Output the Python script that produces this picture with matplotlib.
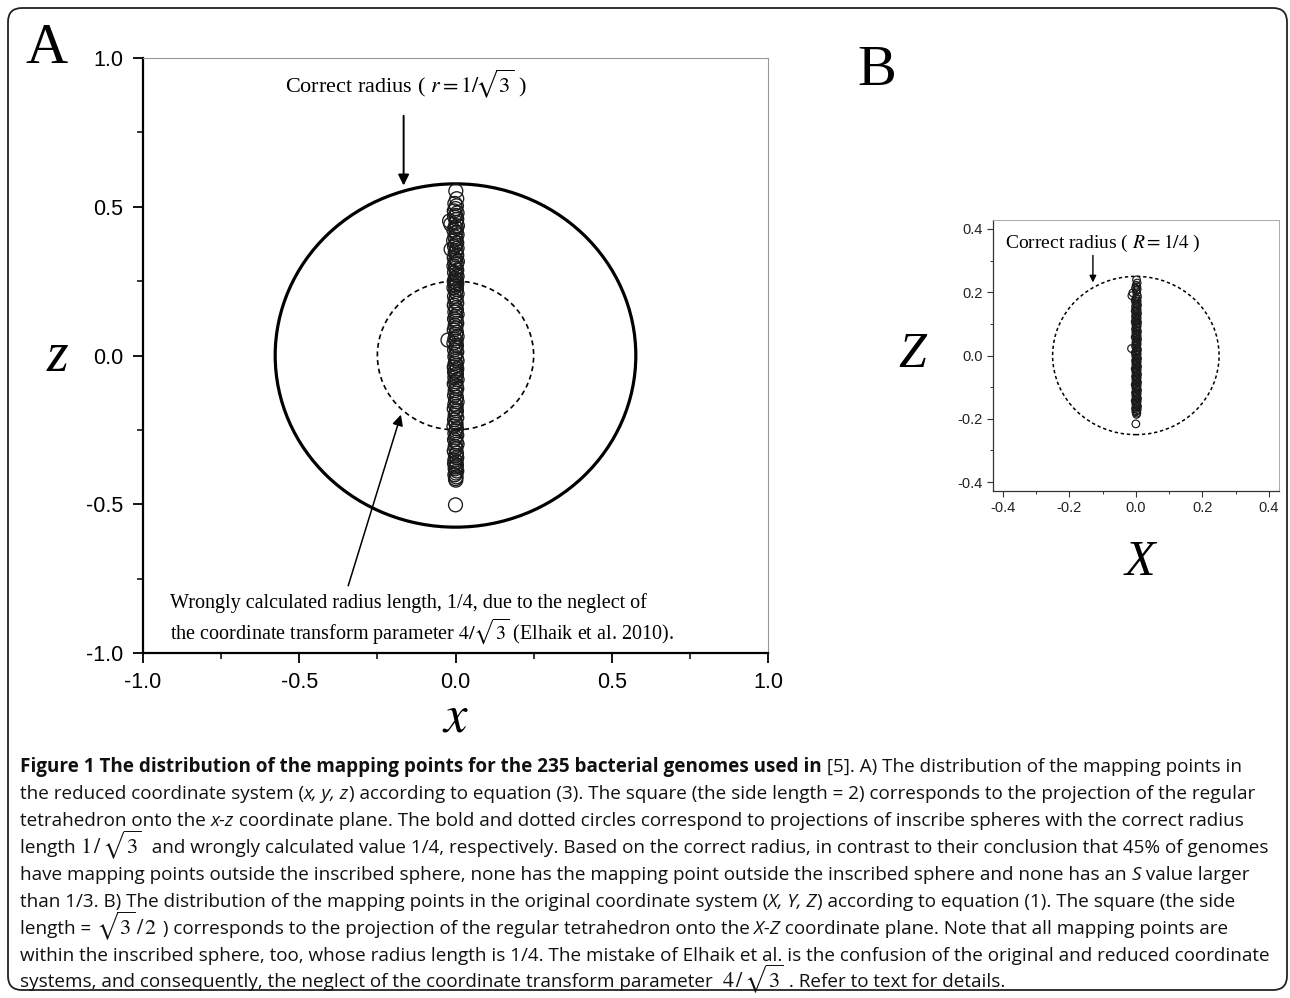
import matplotlib
matplotlib.use("Agg")
import matplotlib.pyplot as plt
from matplotlib.patches import Circle, FancyBboxPatch
from matplotlib.transforms import IdentityTransform
from matplotlib.font_manager import FontProperties
from matplotlib.ticker import MultipleLocator

plt.rcParams['mathtext.fontset'] = 'stix'
plt.rcParams['axes.unicode_minus'] = False

# ---------------- data ----------------
# Panel A: reduced coordinate system (x, z)
a_pts = [
    (0.001, 0.553), (0.004, 0.527), (-0.002, 0.511), (0.003, 0.503), (0.000, 0.494),
    (-0.004, 0.486), (0.005, 0.479), (0.001, 0.471), (-0.003, 0.466), (0.004, 0.458),
    (-0.019, 0.452), (0.002, 0.447), (-0.015, 0.441), (0.006, 0.436), (-0.001, 0.432),
    (0.003, 0.427), (-0.005, 0.421), (0.002, 0.414), (0.005, 0.406), (-0.002, 0.399),
    (0.001, 0.391), (-0.006, 0.386), (0.004, 0.379), (0.000, 0.372), (-0.003, 0.366),
    (0.005, 0.361), (-0.014, 0.357), (0.002, 0.352), (-0.001, 0.345), (0.004, 0.337),
    (-0.004, 0.329), (0.001, 0.322), (0.006, 0.316), (-0.002, 0.311), (0.003, 0.307),
    (-0.005, 0.301), (0.000, 0.294), (0.004, 0.287), (-0.003, 0.279), (0.002, 0.272),
    (0.005, 0.266), (-0.001, 0.259), (0.003, 0.253), (-0.004, 0.249), (0.001, 0.245),
    (0.004, 0.241), (-0.002, 0.237), (0.002, 0.233), (-0.005, 0.228), (0.003, 0.222),
    (0.000, 0.215), (0.005, 0.207), (-0.003, 0.199), (0.002, 0.192), (-0.001, 0.184),
    (0.004, 0.176), (-0.004, 0.169), (0.001, 0.161), (0.003, 0.153), (-0.002, 0.146),
    (0.005, 0.138), (0.000, 0.131), (-0.003, 0.123), (0.002, 0.116), (0.004, 0.108),
    (-0.001, 0.101), (0.001, 0.093), (-0.004, 0.086), (0.003, 0.078), (0.000, 0.071),
    (0.005, 0.064), (-0.002, 0.056), (0.002, 0.049), (-0.005, 0.042), (0.003, 0.034),
    (0.001, 0.027), (-0.003, 0.019), (0.004, 0.012), (0.000, 0.004), (-0.002, -0.004),
    (0.003, -0.011), (0.005, -0.018), (-0.001, -0.026), (0.002, -0.033), (-0.004, -0.039),
    (0.004, -0.045), (0.000, -0.051), (-0.003, -0.056), (0.003, -0.062), (0.001, -0.068),
    (-0.002, -0.074), (0.005, -0.081), (0.000, -0.088), (-0.004, -0.095), (0.002, -0.103),
    (0.004, -0.111), (-0.001, -0.118), (0.001, -0.126), (-0.003, -0.134), (0.003, -0.141),
    (0.000, -0.149), (0.005, -0.156), (-0.002, -0.164), (0.002, -0.171), (-0.004, -0.179),
    (0.003, -0.186), (0.001, -0.194), (-0.001, -0.201), (0.004, -0.209), (-0.003, -0.216),
    (0.000, -0.224), (0.002, -0.231), (-0.005, -0.238), (0.003, -0.246), (0.001, -0.253),
    (-0.002, -0.261), (0.004, -0.268), (0.000, -0.276), (-0.003, -0.283), (0.002, -0.291),
    (0.005, -0.298), (-0.001, -0.306), (0.001, -0.313), (-0.004, -0.321), (0.003, -0.328),
    (0.000, -0.336), (0.004, -0.343), (-0.002, -0.351), (0.002, -0.357), (-0.003, -0.363),
    (0.003, -0.369), (0.000, -0.375), (-0.001, -0.381), (0.004, -0.388), (0.001, -0.395),
    (-0.002, -0.401), (0.002, -0.408), (0.000, -0.414), (0.001, -0.419), (0.000, -0.502),
    (-0.024, 0.052),
]
# Panel B: original coordinate system (X, Z)
b_pts = [
    (0.002, 0.239), (0.004, 0.229), (0.001, 0.222), (0.003, 0.217), (-0.001, 0.213),
    (0.004, 0.209), (0.002, 0.205), (-0.009, 0.198), (0.003, 0.195), (-0.012, 0.189),
    (0.005, 0.186), (0.001, 0.182), (0.003, 0.178), (-0.002, 0.174), (0.004, 0.171),
    (0.000, 0.167), (0.002, 0.163), (0.005, 0.159), (-0.001, 0.155), (0.003, 0.152),
    (0.001, 0.148), (0.004, 0.144), (-0.002, 0.141), (0.002, 0.137), (0.005, 0.133),
    (0.000, 0.129), (0.003, 0.125), (-0.001, 0.122), (0.004, 0.118), (0.001, 0.114),
    (0.003, 0.110), (-0.002, 0.107), (0.005, 0.104), (0.002, 0.101), (0.000, 0.098),
    (0.004, 0.094), (0.001, 0.090), (0.003, 0.087), (-0.001, 0.083), (0.002, 0.079),
    (0.005, 0.076), (0.000, 0.072), (0.003, 0.068), (0.001, 0.065), (0.004, 0.061),
    (-0.002, 0.058), (0.002, 0.054), (0.005, 0.051), (0.001, 0.047), (0.003, 0.043),
    (0.000, 0.040), (0.004, 0.036), (0.002, 0.032), (-0.001, 0.029), (0.003, 0.025),
    (0.005, 0.018), (0.001, 0.015), (0.003, 0.011), (-0.002, 0.008), (0.004, 0.004),
    (0.002, 0.001), (0.000, -0.003), (0.003, -0.006), (0.005, -0.010), (0.001, -0.014),
    (-0.001, -0.017), (0.004, -0.021), (0.002, -0.024), (0.000, -0.028), (0.003, -0.031),
    (0.005, -0.035), (0.001, -0.039), (-0.002, -0.042), (0.004, -0.046), (0.002, -0.049),
    (0.000, -0.053), (0.003, -0.056), (0.005, -0.060), (0.001, -0.064), (-0.001, -0.067),
    (0.004, -0.071), (0.002, -0.074), (0.000, -0.078), (0.003, -0.082), (0.005, -0.085),
    (0.001, -0.089), (-0.002, -0.092), (0.004, -0.096), (0.002, -0.100), (0.000, -0.103),
    (0.003, -0.107), (0.005, -0.110), (0.001, -0.114), (-0.001, -0.118), (0.004, -0.121),
    (0.002, -0.125), (0.000, -0.128), (0.003, -0.132), (0.005, -0.136), (0.001, -0.139),
    (-0.002, -0.143), (0.004, -0.146), (0.002, -0.150), (0.000, -0.154), (0.003, -0.157),
    (0.005, -0.161), (0.001, -0.164), (-0.001, -0.168), (0.004, -0.171), (0.002, -0.175),
    (0.000, -0.178), (0.003, -0.182), (0.002, -0.186), (0.000, -0.216), (-0.013, 0.022),
]
a_radius_correct = 0.577   # 1/sqrt(3)
a_radius_wrong = 0.25
b_radius_correct = 0.25
a_ticks = [-1.0, -0.5, 0.0, 0.5, 1.0]
b_ticks = [-0.4, -0.2, 0.0, 0.2, 0.4]

caption_lines = [
    [("Figure 1 The distribution of the mapping points for the 235 bacterial genomes used in", 'b'),
     (" [5]. A) The distribution of the mapping points in", 'r')],
    [("the reduced coordinate system (", 'r'), ("x, y, z", 'i'),
     (") according to equation (3). The square (the side length = 2) corresponds to the projection of the regular", 'r')],
    [("tetrahedron onto the ", 'r'), ("x-z", 'i'),
     (" coordinate plane. The bold and dotted circles correspond to projections of inscribe spheres with the correct radius", 'r')],
    [("length ", 'r'), (r"$1\,/\,\sqrt{3}$", 'm'),
     ("  and wrongly calculated value 1/4, respectively. Based on the correct radius, in contrast to their conclusion that 45% of genomes", 'r')],
    [("have mapping points outside the inscribed sphere, none has the mapping point outside the inscribed sphere and none has an ", 'r'),
     ("S", 'i'), (" value larger", 'r')],
    [("than 1/3. B) The distribution of the mapping points in the original coordinate system (", 'r'), ("X, Y, Z", 'i'),
     (") according to equation (1). The square (the side", 'r')],
    [("length = ", 'r'), (r"$\sqrt{3}\,/\,2$", 'm'),
     (" ) corresponds to the projection of the regular tetrahedron onto the ", 'r'), ("X-Z", 'i'),
     (" coordinate plane. Note that all mapping points are", 'r')],
    [("within the inscribed sphere, too, whose radius length is 1/4. The mistake of Elhaik et al. is the confusion of the original and reduced coordinate", 'r')],
    [("systems, and consequently, the neglect of the coordinate transform parameter  ", 'r'), (r"$4\,/\,\sqrt{3}$", 'm'),
     (" . Refer to text for details.", 'r')],
]

# ---------------- figure ----------------
W, H = 1290, 998
fig = plt.figure(figsize=(W / 100, H / 100), dpi=100)
fig.patch.set_facecolor('white')


def fpx(x, y):
    return x / W, 1 - y / H


SERIF = 'Liberation Serif'
SANS = 'Liberation Sans'
CAP = 'Open Sans'

# outer rounded frame
fig.add_artist(FancyBboxPatch((8, 8), 1279, 982, boxstyle='round,pad=0,rounding_size=14',
                              transform=IdentityTransform(), fill=False, ec='#222222', lw=1.3))

# ---------- panel A ----------
axA = fig.add_axes([143 / W, 1 - 653 / H, 625 / W, 595 / H])
axA.set_xlim(-1, 1)
axA.set_ylim(-1, 1)
ax_x = [p[0] for p in a_pts]
ax_z = [p[1] for p in a_pts]
axA.scatter(ax_x, ax_z, s=100, facecolors='none', edgecolors='#1a1a1a', linewidths=0.95, zorder=3)
axA.add_patch(Circle((0, 0), a_radius_correct, fill=False, ec='black', lw=2.3, zorder=2))
axA.add_patch(Circle((0, 0), a_radius_wrong, fill=False, ec='black', lw=1.2,
                     linestyle=(0, (3, 2.2)), zorder=2))
for s in ['left', 'bottom']:
    axA.spines[s].set_linewidth(1.6)
    axA.spines[s].set_color('black')
for s in ['top', 'right']:
    axA.spines[s].set_linewidth(0.8)
    axA.spines[s].set_color('#999999')
axA.set_xticks(a_ticks)
axA.set_yticks(a_ticks)
axA.xaxis.set_minor_locator(MultipleLocator(0.25))
axA.yaxis.set_minor_locator(MultipleLocator(0.25))
axA.tick_params(which='both', direction='out', top=False, right=False, color='black')
axA.tick_params(which='major', length=7, width=1.3, labelsize=15.5, pad=7)
axA.tick_params(which='minor', length=4.5, width=1.1)
for lab in axA.get_xticklabels() + axA.get_yticklabels():
    lab.set_fontfamily(SANS)

axA.annotate('', xy=(-0.166, 0.562), xytext=(-0.166, 0.815),
             arrowprops=dict(arrowstyle='-|>', color='black', lw=1.4, mutation_scale=16))
axA.annotate('', xy=(-0.172, -0.19), xytext=(-0.346, -0.783),
             arrowprops=dict(arrowstyle='-|>', color='black', lw=1.1, mutation_scale=16))
axA.text(-0.16, 0.884, r"Correct radius ( $r = 1/\!\sqrt{3}$ )", ha='center', va='baseline',
         fontsize=16, family=SERIF)
axA.text(-0.912, -0.850, "Wrongly calculated radius length, 1/4, due to the neglect of",
         ha='left', va='baseline', fontsize=14.5, family=SERIF)
axA.text(-0.912, -0.951, r"the coordinate transform parameter $4/\sqrt{3}$ (Elhaik et al. 2010).",
         ha='left', va='baseline', fontsize=14.5, family=SERIF)

# ---------- panel B ----------
axB = fig.add_axes([992.7 / W, 1 - 491 / H, 286.3 / W, 271 / H])
axB.set_xlim(-0.43, 0.43)
axB.set_ylim(-0.428, 0.428)
bx = [p[0] for p in b_pts]
bz = [p[1] for p in b_pts]
axB.scatter(bx, bz, s=30, facecolors='none', edgecolors='#1a1a1a', linewidths=0.85, zorder=3)
axB.add_patch(Circle((0, 0), b_radius_correct, fill=False, ec='black', lw=1.1,
                     linestyle=(0, (2.2, 1.8)), zorder=2))
for s in ['left', 'bottom']:
    axB.spines[s].set_linewidth(0.9)
    axB.spines[s].set_color('#333333')
for s in ['top', 'right']:
    axB.spines[s].set_linewidth(0.7)
    axB.spines[s].set_color('#aaaaaa')
axB.set_xticks(b_ticks)
axB.set_yticks(b_ticks)
axB.xaxis.set_minor_locator(MultipleLocator(0.1))
axB.yaxis.set_minor_locator(MultipleLocator(0.1))
axB.tick_params(which='both', direction='out', top=False, right=False, color='#333333')
axB.tick_params(which='major', length=4, width=0.8, labelsize=10.5, pad=3, labelcolor='#222222')
axB.tick_params(which='minor', length=2.5, width=0.7)
for lab in axB.get_xticklabels() + axB.get_yticklabels():
    lab.set_fontfamily(SANS)
axB.annotate('', xy=(-0.129, 0.222), xytext=(-0.129, 0.325),
             arrowprops=dict(arrowstyle='-|>', color='black', lw=1.0, mutation_scale=10))
axB.text(-0.394, 0.339, r"Correct radius ( $R = 1/4$ )", ha='left', va='baseline',
         fontsize=14, family=SERIF)

# ---------- panel letters and axis names ----------
fig.text(*fpx(25, 63), "A", fontsize=42, family=SERIF, ha='left', va='baseline')
fig.text(*fpx(857, 85), "B", fontsize=42, family=SERIF, ha='left', va='baseline')
fig.text(*fpx(57, 357), "z", fontsize=40, family=SERIF, style='italic', ha='center', va='center')
fig.text(*fpx(455, 732), r"$x$", fontsize=38, ha='center', va='baseline')
fig.text(*fpx(912, 355), "Z", fontsize=36, family=SERIF, style='italic', ha='center', va='center')
fig.text(*fpx(1140, 563), "X", fontsize=36, family=SERIF, style='italic', ha='center', va='center')

# ---------- caption ----------
cap_size = 13.6
props = {
    'r': FontProperties(family=CAP, size=cap_size),
    'b': FontProperties(family=CAP, size=cap_size, weight='bold'),
    'i': FontProperties(family=CAP, size=cap_size, style='italic'),
    'm': FontProperties(family=SERIF, size=16),
}
renderer = fig.canvas.get_renderer()


def seg_width(s, kind):
    fp = props[kind]
    if kind == 'm':
        return renderer.get_text_width_height_descent(s, fp, ismath=True)[0]
    w1 = renderer.get_text_width_height_descent("|" + s + "|", fp, ismath=False)[0]
    w0 = renderer.get_text_width_height_descent("||", fp, ismath=False)[0]
    return w1 - w0


baselines = [772, 799, 826, 853, 880, 907, 934, 961, 987]
for line, yb in zip(caption_lines, baselines):
    x = 20.0
    for s, kind in line:
        fig.text(*fpx(x, yb), s, fontproperties=props[kind], ha='left', va='baseline', color='#111111')
        x += seg_width(s, kind)

fig.savefig("out.png", dpi=100, facecolor='white')
